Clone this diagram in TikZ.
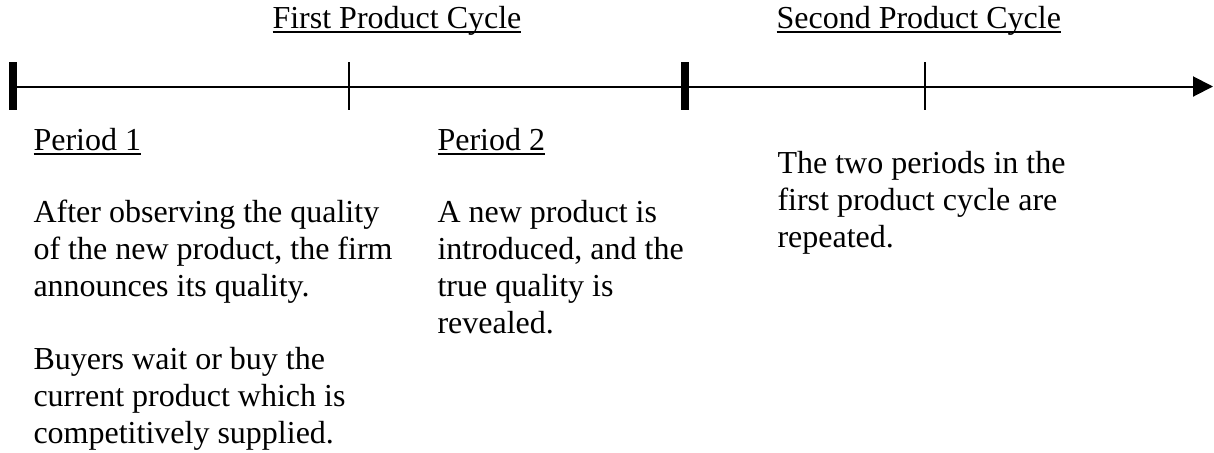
\documentclass[tikz,border=0pt]{standalone}
\usepackage{fontspec}
\setmainfont{Liberation Serif}
\usetikzlibrary{arrows.meta}
\newcommand{\ulbox}[1]{\setbox0\hbox{#1}\rlap{\rule[-1.8pt]{\wd0}{0.6pt}}\box0}

\begin{document}
\begin{tikzpicture}[x=0.375pt, y=-0.375pt,
  txt/.style = {anchor=base west, inner sep=0pt, align=left, font=\fontsize{12pt}{13.8pt}\selectfont},
  major/.style = {line width=3pt},
  minor/.style = {line width=0.4pt}]
  \useasboundingbox (0,0) rectangle (1214,452);
  \coordinate (start) at (13,86.5);
  \coordinate (end) at (1213,86.5);
  \draw[line width=0.75pt, -{Triangle[length=7.5pt,width=7.5pt]}] (start) -- (end);
  \foreach \x in {13,685} \draw[major] (\x,62) -- (\x,110);
  \foreach \x in {349,925} \draw[minor] (\x,62) -- (\x,110);
  % multi-line nodes sit on the baseline of their last line
  \node[txt] (c1) at (272,28) {\ulbox{First Product Cycle}};
  \node[txt] (c2) at (776,28) {\ulbox{Second Product Cycle}};
  \node[txt] (p1) at (33,150) {\ulbox{Period 1}};
  \node[txt] (p2) at (437,150) {\ulbox{Period 2}};
  \node[txt] (a1) at (33,296) {After observing the quality\\of the new product, the firm\\announces its quality.};
  \node[txt] (b1) at (33,443) {Buyers wait or buy the\\current product which is\\competitively supplied.};
  \node[txt] (a2) at (437,333) {A new product is\\introduced, and the\\true quality is\\revealed.};
  \node[txt] (r) at (777,247) {The two periods in the\\first product cycle are\\repeated.};
\end{tikzpicture}
\end{document}
